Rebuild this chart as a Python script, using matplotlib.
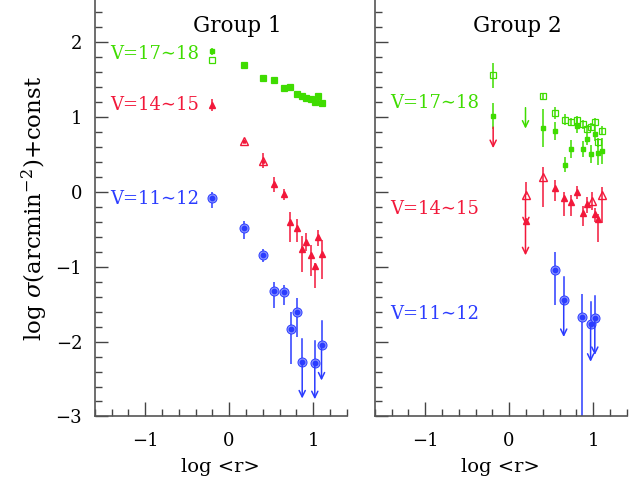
import matplotlib
matplotlib.use("Agg")
import matplotlib.pyplot as plt
from matplotlib.ticker import MultipleLocator

plt.rcParams['font.family'] = ['DejaVu Serif']
plt.rcParams['mathtext.fontset'] = 'dejavuserif'

GREEN = '#3fdc00'
RED = '#f2183a'
BLUE = '#2b3cff'

# ---------------- Group 1 ----------------
g1_x = [-0.2, 0.18, 0.40, 0.54, 0.65, 0.73, 0.81, 0.87, 0.92, 0.97, 1.02, 1.06, 1.10]
g1_green_f = [1.87, 1.69, 1.52, 1.49, 1.38, 1.40, 1.30, 1.27, 1.25, 1.24, 1.19, 1.28, 1.18]
g1_green_o = [1.76, 1.69, 1.52, 1.49, 1.38, 1.40, 1.30, 1.27, 1.25, 1.24, 1.19, 1.28, 1.18]
g1_green_e = [0.05, 0.03, 0.03, 0.03, 0.03, 0.03, 0.03, 0.03, 0.03, 0.03, 0.03, 0.03, 0.03]

g1_red_y = [1.16, 0.67, 0.41, 0.10, -0.03, -0.41, -0.49, -0.76, -0.67, -0.85, -0.99, -0.60, -0.83]
g1_red_lo = [0.08, 0.02, 0.10, 0.10, 0.08, 0.26, 0.18, 0.31, 0.12, 0.28, 0.30, 0.12, 0.34]
g1_red_hi = [0.08, 0.02, 0.10, 0.09, 0.06, 0.14, 0.13, 0.17, 0.12, 0.14, 0.04, 0.09, 0.18]
g1_red_open = [False, True, True, False, False, False, False, False, False, False, False, False, False]

g1_blue_x = [-0.2, 0.18, 0.40, 0.54, 0.65, 0.74, 0.81, 0.87, 1.02, 1.10]
g1_blue_y = [-0.09, -0.49, -0.84, -1.33, -1.34, -1.83, -1.60, -2.27, -2.28, -2.04]
g1_blue_lo = [0.13, 0.14, 0.10, 0.22, 0.17, 0.47, 0.34, None, None, None]
g1_blue_hi = [0.09, 0.10, 0.08, 0.12, 0.10, 0.22, 0.18, 0.31, 0.29, 0.31]
g1_blue_tip = [None, None, None, None, None, None, None, -2.76, -2.77, -2.52]

# ---------------- Group 2 ----------------
g2_green_x = [-0.19, 0.40, 0.55, 0.66, 0.74, 0.81, 0.88, 0.93, 0.98, 1.02, 1.06, 1.11]
g2_green_o = [1.55, 1.27, 1.05, 0.96, 0.93, 0.96, 0.90, 0.84, 0.86, 0.93, 0.66, 0.81]
g2_green_oe = [0.17, 0.05, 0.08, 0.07, 0.05, 0.05, 0.06, 0.05, 0.05, 0.05, 0.06, 0.06]
g2_green_f = [1.01, 0.85, 0.81, 0.36, 0.57, 0.88, 0.57, 0.70, 0.50, 0.77, 0.52, 0.54]
g2_green_fe = [0.17, 0.25, 0.12, 0.10, 0.12, 0.10, 0.11, 0.08, 0.12, 0.10, 0.17, 0.17]
g2_green_lim_x = [0.195]
g2_green_lim = [(1.12, 0.84)]

g2_red_fx = [0.20, 0.55, 0.655, 0.74, 0.81, 0.88, 0.93, 1.02, 1.06]
g2_red_f = [-0.39, 0.05, -0.08, -0.14, 0.00, -0.28, -0.16, -0.30, -0.36]
g2_red_flo = [0.0, 0.17, 0.24, 0.19, 0.10, 0.18, 0.12, 0.10, 0.31]
g2_red_fhi = [0.0, 0.11, 0.07, 0.10, 0.08, 0.09, 0.09, 0.08, 0.06]
g2_red_ox = [0.195, 0.40, 0.99, 1.11]
g2_red_o = [-0.05, 0.19, -0.12, -0.05]
g2_red_olo = [0.0, 0.40, 0.12, 0.37]
g2_red_ohi = [0.18, 0.14, 0.11, 0.11]
g2_red_lim_x = [-0.19, 0.195, 0.20]
g2_red_lim = [(0.86, 0.58), (-0.05, -0.85), (-0.39, -0.45)]

g2_blue_x = [0.55, 0.65, 0.87, 0.97, 1.02]
g2_blue_y = [-1.04, -1.44, -1.67, -1.77, -1.68]
g2_blue_lo = [0.47, None, 1.33, None, None]
g2_blue_hi = [0.23, 0.30, 0.31, 0.30, 0.29]
g2_blue_tip = [None, -1.94, None, -2.27, -2.18]

labels = ['V=17\u223c18', 'V=14\u223c15', 'V=11\u223c12']
g1_label_y = [1.84, 1.16, -0.10]
g2_label_y = [1.18, -0.23, -1.63]

fig = plt.figure(figsize=(6.39, 4.83), dpi=100)
ax1 = fig.add_axes([0.1482, 0.1377, 0.3944, 0.8613])
ax2 = fig.add_axes([0.5864, 0.1377, 0.3944, 0.8613])

LW = 1.1


def arrow(ax, x, y0, y1, color):
    ax.annotate('', xy=(x, y1), xytext=(x, y0),
                arrowprops=dict(arrowstyle='->,head_length=0.45,head_width=0.22',
                                color=color, lw=LW, shrinkA=0, shrinkB=0))


def bars(ax, x, y, lo, hi, color):
    ax.errorbar(x, y, yerr=[lo, hi], fmt='none', ecolor=color, elinewidth=LW, capsize=0)


def blue_pts(ax, xs, ys, los, his, tips):
    for x, y, lo, hi, tip in zip(xs, ys, los, his, tips):
        if lo is None:
            ax.plot([x, x], [y, y + hi], color=BLUE, lw=LW)
            arrow(ax, x, y, tip, BLUE)
        else:
            bars(ax, [x], [y], [lo], [hi], BLUE)
    ax.plot(xs, ys, 'o', ms=6.5, mfc='#8d98ff', mec=BLUE, mew=0.7, ls='none')
    ax.plot(xs, ys, 'o', ms=3.2, color=BLUE, ls='none')


# Group 1 panel
bars(ax1, g1_x, g1_green_f, g1_green_e, g1_green_e, GREEN)
ax1.plot(g1_x, g1_green_o, 's', ms=4.5, mfc='none', mec=GREEN, mew=0.9)
ax1.plot(g1_x, g1_green_f, 's', ms=3, color=GREEN)

bars(ax1, g1_x, g1_red_y, g1_red_lo, g1_red_hi, RED)
for x, y, op in zip(g1_x, g1_red_y, g1_red_open):
    if op:
        ax1.plot(x, y, '^', ms=5.5, mfc='none', mec=RED, mew=1.0)
        ax1.plot(x, y, '^', ms=2.2, color=RED)
    else:
        ax1.plot(x, y, '^', ms=5, color=RED)

blue_pts(ax1, g1_blue_x, g1_blue_y, g1_blue_lo, g1_blue_hi, g1_blue_tip)

# Group 2 panel
bars(ax2, g2_green_x, g2_green_o, g2_green_oe, g2_green_oe, GREEN)
bars(ax2, g2_green_x, g2_green_f, g2_green_fe, g2_green_fe, GREEN)
ax2.plot(g2_green_x, g2_green_o, 's', ms=5, mfc='none', mec=GREEN, mew=0.9, ls='none')
ax2.plot(g2_green_x, g2_green_f, 's', ms=3, color=GREEN, ls='none')
for x, (y0, y1) in zip(g2_green_lim_x, g2_green_lim):
    arrow(ax2, x, y0, y1, GREEN)

bars(ax2, g2_red_fx, g2_red_f, g2_red_flo, g2_red_fhi, RED)
bars(ax2, g2_red_ox, g2_red_o, g2_red_olo, g2_red_ohi, RED)
for x, (y0, y1) in zip(g2_red_lim_x, g2_red_lim):
    arrow(ax2, x, y0, y1, RED)
ax2.plot(g2_red_fx, g2_red_f, '^', ms=5, color=RED, ls='none')
ax2.plot(g2_red_ox, g2_red_o, '^', ms=5.5, mfc='none', mec=RED, mew=1.0, ls='none')

blue_pts(ax2, g2_blue_x, g2_blue_y, g2_blue_lo, g2_blue_hi, g2_blue_tip)

for ax, title, ly in [(ax1, 'Group 1', g1_label_y), (ax2, 'Group 2', g2_label_y)]:
    ax.set_xlim(-1.6, 1.4)
    ax.set_ylim(-3, 2.55)
    for s in ['top', 'right']:
        ax.spines[s].set_visible(False)
    for s in ['left', 'bottom']:
        ax.spines[s].set_color('#555555')
        ax.spines[s].set_linewidth(1.2)
    ax.xaxis.set_major_locator(MultipleLocator(1))
    ax.xaxis.set_minor_locator(MultipleLocator(0.2))
    ax.yaxis.set_major_locator(MultipleLocator(1))
    ax.yaxis.set_minor_locator(MultipleLocator(0.2))
    ax.tick_params(which='both', direction='in', color='#444444', width=1.0,
                   labelsize=13, top=False, right=False)
    ax.tick_params(axis='x', which='major', length=10, pad=11)
    ax.tick_params(axis='y', which='major', length=9, pad=9)
    ax.tick_params(which='minor', length=5)
    ax.set_xlabel('log <r>', fontsize=14, labelpad=6)
    ax.text(0.1, 2.21, title, fontsize=15.5, ha='center', va='center')
    for lab, y, c in zip(labels, ly, [GREEN, RED, BLUE]):
        ax.text(-1.41, y, lab, color=c, fontsize=13, ha='left', va='center')

ax2.tick_params(axis='y', labelleft=False)
ax1.set_ylabel(r'log $\sigma$(arcmin$^{-2}$)+const', fontsize=16.5, labelpad=4)

fig.savefig('out.png', dpi=100)
